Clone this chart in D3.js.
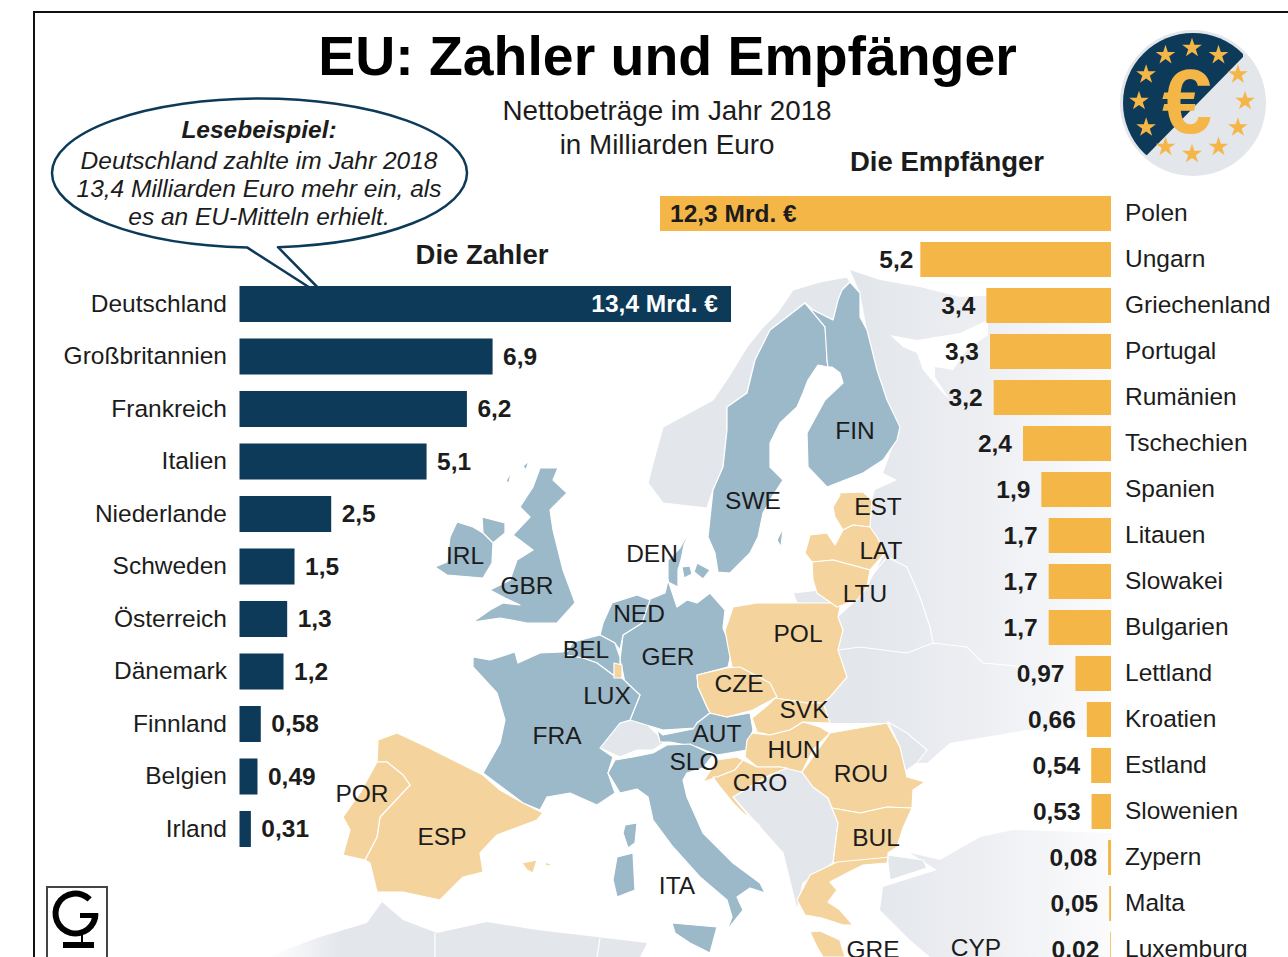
<!DOCTYPE html>
<html>
<head>
<meta charset="utf-8">
<title>EU: Zahler und Empfänger</title>
<script src="https://cdn.jsdelivr.net/npm/d3@7/dist/d3.min.js"></script>
<style>
html,body{margin:0;padding:0;background:#fff;overflow:hidden}
svg{display:block}
text{font-family:"Liberation Sans",Arial,sans-serif;fill:#1c1c1c}
</style>
</head>
<body>
<div id="chart"></div>
<script>
// die Zahler
var payerNames=["Deutschland","Großbritannien","Frankreich","Italien","Niederlande","Schweden","Österreich","Dänemark","Finnland","Belgien","Irland"];
var payerValues=[13.4,6.9,6.2,5.1,2.5,1.5,1.3,1.2,0.58,0.49,0.31];
var payerLabels=["13,4 Mrd. €","6,9","6,2","5,1","2,5","1,5","1,3","1,2","0,58","0,49","0,31"];

// die Empfänger
var receiverNames=["Polen","Ungarn","Griechenland","Portugal","Rumänien","Tschechien","Spanien","Litauen","Slowakei","Bulgarien","Lettland","Kroatien","Estland","Slowenien","Zypern","Malta","Luxemburg"];
var receiverValues=[12.3,5.2,3.4,3.3,3.2,2.4,1.9,1.7,1.7,1.7,0.97,0.66,0.54,0.53,0.08,0.05,0.02];
var receiverLabels=["12,3 Mrd. €","5,2","3,4","3,3","3,2","2,4","1,9","1,7","1,7","1,7","0,97","0,66","0,54","0,53","0,08","0,05","0,02"];

var bubbleText=["Deutschland zahlte im Jahr 2018","13,4 Milliarden Euro mehr ein, als","es an EU-Mitteln erhielt."];

var colors={navy:"#0d3a58",orange:"#f5b648",mapBlue:"#9cb9ca",mapSand:"#f4d49c",mapGrey:"#e3e6eb"};

// basemap outlines, traced by hand in page pixels (background only, no values)
var mapPayers=[
 [[805,303],[814,312],[825,327],[827,345],[827,360],[828,367],[818,365],[808,380],[803,393],[797,407],[780,423],[770,443],[770,467],[783,480],[772,497],[763,513],[758,537],[750,553],[730,573],[718,572],[715,553],[708,537],[713,490],[723,467],[727,430],[727,407],[747,393],[755,360],[770,330],[787,317]],
 [[805,303],[813,310],[833,320],[838,300],[842,290],[850,282],[860,293],[860,317],[867,330],[877,370],[887,400],[900,427],[897,440],[883,460],[863,473],[827,487],[808,467],[807,433],[825,400],[843,383],[840,373],[832,367],[828,367],[827,360],[825,327]],
 [[668,560],[680,548],[692,527],[684,545],[681,560],[678,570],[678,587],[668,582]],
 [[682,567],[690,566],[692,574],[684,578]],
 [[697,563],[710,570],[703,579],[694,572]],
 [[777,540],[783,528],[781,547]],
 [[668,580],[677,607],[687,600],[697,603],[710,593],[725,610],[723,628],[732,650],[728,667],[697,675],[698,687],[707,707],[710,713],[697,723],[695,728],[663,730],[640,723],[630,720],[640,695],[625,683],[623,673],[620,660],[623,635],[642,623],[648,600],[665,593]],
 [[612,603],[637,595],[650,600],[642,623],[623,635],[620,650],[615,643],[600,635],[603,623]],
 [[600,635],[615,643],[620,657],[620,665],[613,675],[597,663],[583,658],[565,655],[573,642]],
 [[473,657],[490,660],[515,652],[518,663],[540,653],[563,652],[573,642],[565,655],[583,658],[597,663],[613,675],[622,678],[640,695],[630,720],[620,723],[600,748],[613,757],[608,773],[615,793],[597,805],[570,793],[547,797],[540,810],[523,803],[483,773],[500,743],[505,720],[497,693],[473,667]],
 [[697,723],[710,713],[727,717],[750,713],[753,730],[747,750],[717,755],[697,747],[670,742],[660,742],[657,730],[663,735],[693,729]],
 [[608,773],[615,760],[633,757],[653,753],[667,745],[690,744],[713,755],[703,768],[687,773],[683,780],[687,797],[703,833],[733,863],[760,883],[765,893],[750,888],[737,897],[743,910],[727,930],[732,917],[727,900],[700,877],[673,847],[653,820],[648,797],[637,789],[620,793]],
 [[672,923],[717,927],[710,953],[690,943],[675,933]],
 [[617,857],[633,853],[635,890],[617,897],[613,880]],
 [[625,825],[637,823],[635,843],[628,848],[623,833]],
 [[540,468],[558,468],[553,480],[567,493],[550,510],[553,530],[563,570],[573,597],[575,603],[557,623],[527,623],[500,618],[473,622],[490,610],[503,603],[520,605],[505,598],[490,590],[510,580],[517,560],[533,550],[513,535],[530,517],[520,507],[533,487]],
 [[482,517],[505,523],[505,533],[493,543],[483,533]],
 [[457,522],[473,527],[483,533],[493,543],[492,563],[483,578],[447,575],[435,567],[447,562],[450,537]],
 [[506,481],[511,472],[509,483]],
 [[523,466],[529,461],[526,470]]
];
var mapReceivers=[
 [[378,740],[397,733],[427,747],[483,775],[500,790],[523,803],[543,813],[537,820],[497,835],[480,853],[483,872],[463,877],[440,900],[403,892],[377,892],[370,863],[365,860],[377,837],[380,817],[410,785],[403,775],[387,762],[377,762]],
 [[377,762],[387,762],[403,775],[410,785],[380,817],[377,837],[365,860],[343,855],[350,830],[343,817],[360,793]],
 [[522,863],[537,860],[533,873],[527,870]],
 [[545,862],[553,865],[546,866]],
 [[614,663],[622,665],[622,678],[614,678]],
 [[728,622],[733,607],[757,603],[787,603],[832,603],[840,607],[838,617],[843,630],[838,650],[847,677],[830,697],[823,703],[807,703],[775,698],[768,687],[740,673],[732,667],[728,647],[725,630]],
 [[697,675],[727,668],[740,667],[770,683],[777,697],[753,710],[727,717],[710,713],[707,707],[698,687]],
 [[775,698],[807,703],[823,703],[830,723],[803,722],[790,730],[770,735],[757,732],[752,718],[768,705]],
 [[752,733],[770,735],[790,730],[803,722],[820,727],[830,733],[813,750],[802,772],[780,767],[757,767],[745,757],[747,740]],
 [[703,782],[717,760],[737,757],[743,760],[735,770],[717,777]],
 [[743,760],[757,767],[780,767],[787,768],[770,775],[733,797],[748,815],[760,826],[743,813],[733,803],[720,787],[713,777],[717,777],[735,770]],
 [[802,772],[830,733],[887,723],[900,747],[907,777],[925,782],[913,790],[912,808],[887,807],[860,813],[832,808],[828,798],[813,787]],
 [[832,808],[860,813],[887,807],[912,808],[903,828],[897,847],[888,853],[888,860],[873,863],[833,863],[838,823]],
 [[837,862],[880,858],[888,857],[887,863],[863,865],[847,873],[830,882],[837,890],[828,902],[840,910],[853,925],[843,925],[822,918],[805,915],[797,900],[810,875]],
 [[810,932],[820,931],[840,940],[845,957],[823,957],[817,947]],
 [[840,495],[838,493],[863,492],[872,500],[870,527],[853,525],[843,530],[835,517],[833,507]],
 [[843,530],[853,525],[870,527],[877,537],[885,553],[870,570],[833,560],[812,562],[805,553],[810,535],[827,533],[835,545]],
 [[812,562],[833,560],[870,570],[867,587],[857,600],[837,607],[817,593],[813,580]]
];
var mapOthers=[
 [[847,277],[820,282],[793,290],[778,312],[763,327],[747,347],[728,378],[713,400],[663,427],[653,463],[648,483],[663,503],[707,508],[713,490],[723,467],[727,430],[727,407],[747,393],[755,360],[770,330],[787,317],[805,303],[813,310],[833,320],[842,290],[850,282]],
 [[600,748],[620,723],[640,718],[655,732],[665,742],[653,750],[637,750],[620,757]],
 [[733,797],[770,775],[787,768],[802,772],[813,787],[828,798],[832,808],[838,823],[833,863],[803,883],[797,910],[783,853]],
 [[793,593],[820,590],[833,607],[797,603]],
 [[887,855],[923,860],[927,868],[890,880]]
];
var mapEast=[
 [[850,270],[880,280],[920,287],[960,297],[1000,295],[1112,288],[1112,730],[1027,730],[950,743],[927,763],[917,763],[900,747],[887,723],[830,723],[823,703],[847,677],[838,650],[843,630],[838,617],[857,600],[867,587],[885,553],[870,527],[872,500],[875,490],[897,480],[883,473],[900,427],[887,400],[877,370],[867,330],[860,293]],
 [[910,853],[940,860],[980,837],[1013,830],[1112,833],[1112,957],[930,957],[910,940],[880,910],[883,887],[937,870]]
];
var mapWhite=[
 [[890,335],[917,340],[960,333],[988,320],[988,335],[967,350],[953,370],[935,367],[935,377],[950,400],[940,390],[923,370],[917,353],[903,347]]
];
var mapAfrica=[
 [[270,957],[285,950],[320,937],[367,923],[382,902],[403,920],[437,933],[487,922],[537,930],[597,937],[647,943],[640,957]]
];
var mapMoldova=[[888,722],[907,733],[927,750],[917,763],[903,773],[900,747]];
var mapBorders=[
 [[838,650],[860,647],[907,653],[933,643],[967,647],[983,663],[1027,667]],
 [[860,590],[887,557],[907,567],[920,597],[930,627],[933,643]],
 [[435,933],[435,957]],
 [[600,938],[597,957]]
];

var mapCodes=["SWE","FIN","EST","LAT","LTU","DEN","IRL","GBR","NED","BEL","GER","LUX","POL","CZE","SVK","AUT","HUN","FRA","SLO","CRO","ROU","POR","ESP","BUL","ITA","GRE","CYP"];
var mapCodeX=[753,855,878,881,865,652,465,527,639,586,668,607,798,739,804,717,794,557,694,760,861,362,442,876,677,873,976];
var mapCodeY=[500,430,506,550,593,553,555,585,613,649,656,695,633,683,709,733,749,735,761,782,773,793,836,837,885,949,947];

function drawChart(divname){
    var svg=d3.select("#"+divname)
        .append("svg")
        .attr("width",1288)
        .attr("height",957);

    var defs=svg.append("defs");
    var eastFade=defs.append("linearGradient")
        .attr("id","eastFade")
        .attr("gradientUnits","userSpaceOnUse")
        .attr("x1",860).attr("x2",1112).attr("y1",0).attr("y2",0);
    eastFade.append("stop").attr("offset","0%").attr("stop-color",colors.mapGrey);
    eastFade.append("stop").attr("offset","45%").attr("stop-color","#eceef2");
    eastFade.append("stop").attr("offset","100%").attr("stop-color","#fbfbfc");
    var westFade=defs.append("linearGradient")
        .attr("id","westFade")
        .attr("gradientUnits","userSpaceOnUse")
        .attr("x1",270).attr("x2",340).attr("y1",0).attr("y2",0);
    westFade.append("stop").attr("offset","0%").attr("stop-color","#ffffff");
    westFade.append("stop").attr("offset","100%").attr("stop-color",colors.mapGrey);

    // frame
    svg.append("path")
        .attr("d","M34,957V12H1288")
        .attr("fill","none")
        .attr("stroke","#111")
        .attr("stroke-width",2);

    // map
    var outline=d3.line().curve(d3.curveLinearClosed);
    var border=d3.line();
    var map=svg.append("g");
    function drawShapes(shapes,fill,stroke){
        map.append("g").selectAll("path")
            .data(shapes)
            .enter()
            .append("path")
            .attr("d",function(d){return outline(d)})
            .attr("fill",fill)
            .attr("stroke",stroke)
            .attr("stroke-width",1.2)
            .attr("stroke-linejoin","round");
    }
    drawShapes(mapAfrica,"url(#westFade)","none");
    drawShapes(mapEast,"url(#eastFade)","none");
    drawShapes(mapWhite,"#fff","none");
    map.append("g").selectAll("path")
        .data(mapBorders)
        .enter()
        .append("path")
        .attr("d",function(d){return border(d)})
        .attr("fill","none")
        .attr("stroke","#fff")
        .attr("stroke-width",1.2);
    drawShapes(mapOthers,colors.mapGrey,"#fff");
    drawShapes([mapMoldova],colors.mapGrey,"#fff");
    drawShapes(mapPayers,colors.mapBlue,"#fff");
    drawShapes(mapReceivers,colors.mapSand,"#fff");

    // speech bubble
    svg.append("path")
        .attr("d","M278,247.2A207.5,74.5 0 0 0 467,173A207.5,74.5 0 0 0 52,173A207.5,74.5 0 0 0 247,247.4L332,302Z")
        .attr("fill","#fff")
        .attr("stroke",colors.navy)
        .attr("stroke-width",2.5)
        .attr("stroke-linejoin","round");
    svg.append("text")
        .attr("x",259).attr("y",138)
        .attr("text-anchor","middle")
        .style("font-size","24.5px")
        .style("font-weight","bold")
        .style("font-style","italic")
        .text("Lesebeispiel:");
    svg.selectAll("text.bubble")
        .data(bubbleText)
        .enter()
        .append("text")
        .attr("class","bubble")
        .attr("x",259)
        .attr("y",function(d,i){return 169+28*i})
        .attr("text-anchor","middle")
        .style("font-size","24.5px")
        .style("font-style","italic")
        .text(function(d){return d});

    // title
    svg.append("text")
        .attr("x",667.5).attr("y",75)
        .attr("text-anchor","middle")
        .style("font-size","55.4px")
        .style("font-weight","bold")
        .style("fill","#000")
        .text("EU: Zahler und Empfänger");
    svg.append("text")
        .attr("x",667).attr("y",120)
        .attr("text-anchor","middle")
        .style("font-size","27.8px")
        .text("Nettobeträge im Jahr 2018");
    svg.append("text")
        .attr("x",667).attr("y",154)
        .attr("text-anchor","middle")
        .style("font-size","27.8px")
        .text("in Milliarden Euro");
    svg.append("text")
        .attr("x",482).attr("y",264)
        .attr("text-anchor","middle")
        .style("font-size","27.5px")
        .style("font-weight","bold")
        .text("Die Zahler");
    svg.append("text")
        .attr("x",947).attr("y",171)
        .attr("text-anchor","middle")
        .style("font-size","27.5px")
        .style("font-weight","bold")
        .text("Die Empfänger");

    // linke Balken
    var xPay=d3.scaleLinear().domain([0,13.4]).range([239.5,731]);
    var yPay=d3.scaleBand()
        .domain(payerNames)
        .range([277.75,277.75+52.5*payerNames.length])
        .paddingInner(0.314)
        .paddingOuter(0.157);
    var payers=svg.append("g").selectAll("g")
        .data(payerNames)
        .enter()
        .append("g");
    payers.append("rect")
        .attr("x",xPay(0))
        .attr("y",function(d){return yPay(d)})
        .attr("width",function(d,i){return xPay(payerValues[i])-xPay(0)})
        .attr("height",yPay.bandwidth())
        .attr("fill",colors.navy);
    payers.append("text")
        .attr("x",227)
        .attr("y",function(d){return yPay(d)+yPay.bandwidth()/2+7.5})
        .attr("text-anchor","end")
        .style("font-size","24.5px")
        .text(function(d){return d});
    payers.append("text")
        .attr("x",function(d,i){return i==0?xPay(payerValues[i])-13:xPay(payerValues[i])+10.5})
        .attr("y",function(d){return yPay(d)+yPay.bandwidth()/2+8})
        .attr("text-anchor",function(d,i){return i==0?"end":"start"})
        .style("font-size","24.5px")
        .style("font-weight","bold")
        .style("fill",function(d,i){return i==0?"#fff":"#1c1c1c"})
        .text(function(d,i){return payerLabels[i]});

    // rechte Balken
    var xRec=d3.scaleLinear().domain([0,12.3]).range([1111,660]);
    var yRec=d3.scaleBand()
        .domain(receiverNames)
        .range([190.5,190.5+46*receiverNames.length])
        .paddingInner(0.239)
        .paddingOuter(0.1195);
    var receivers=svg.append("g").selectAll("g")
        .data(receiverNames)
        .enter()
        .append("g");
    receivers.append("rect")
        .attr("x",function(d,i){return xRec(receiverValues[i])})
        .attr("y",function(d){return yRec(d)})
        .attr("width",function(d,i){return xRec(0)-xRec(receiverValues[i])})
        .attr("height",yRec.bandwidth())
        .attr("fill",colors.orange);
    receivers.append("text")
        .attr("x",1125)
        .attr("y",function(d){return yRec(d)+yRec.bandwidth()/2+7})
        .style("font-size","24.5px")
        .text(function(d){return d});
    receivers.append("text")
        .attr("x",function(d,i){
            if(i==0) return xRec(receiverValues[i])+10;
            return xRec(receiverValues[i])-(i==1?7:11);
        })
        .attr("y",function(d){return yRec(d)+yRec.bandwidth()/2+8})
        .attr("text-anchor",function(d,i){return i==0?"start":"end"})
        .style("font-size","24.5px")
        .style("font-weight","bold")
        .text(function(d,i){return receiverLabels[i]});

    // Länderkürzel
    svg.append("g").selectAll("text")
        .data(mapCodes)
        .enter()
        .append("text")
        .attr("x",function(d,i){return mapCodeX[i]})
        .attr("y",function(d,i){return mapCodeY[i]+8.5})
        .attr("text-anchor","middle")
        .style("font-size","24.5px")
        .text(function(d){return d});

    // Euro-Symbol
    var cx=1193,cy=103,starRadius=53;
    defs.append("clipPath").attr("id","navyHalf")
        .append("path").attr("d","M1243,57L1147,155L1100,155L1100,20L1243,20Z");
    svg.append("circle").attr("cx",cx).attr("cy",cy).attr("r",73).attr("fill",colors.mapGrey);
    svg.append("circle").attr("cx",cx).attr("cy",cy).attr("r",70)
        .attr("fill",colors.navy)
        .attr("clip-path","url(#navyHalf)");
    var star=d3.symbol().type(d3.symbolStar).size(120);
    svg.append("g").selectAll("path")
        .data(d3.range(12))
        .enter()
        .append("path")
        .attr("d",star)
        .attr("fill",colors.orange)
        .attr("transform",function(d){
            var a=d*Math.PI/6;
            return "translate("+(cx+starRadius*Math.sin(a)-1)+","+(cy-starRadius*Math.cos(a)-2)+")";
        });
    svg.append("text")
        .attr("x",1187).attr("y",133)
        .attr("text-anchor","middle")
        .style("font-size","90px")
        .style("font-weight","bold")
        .style("fill",colors.orange)
        .text("€");

    // Logo
    svg.append("rect")
        .attr("x",47).attr("y",887)
        .attr("width",60).attr("height",80)
        .attr("fill","#fff")
        .attr("stroke","#444")
        .attr("stroke-width",2);
    var logoArc=d3.arc()
        .innerRadius(17).outerRadius(23)
        .startAngle(Math.PI/2)
        .endAngle(Math.PI*2.25);
    svg.append("path")
        .attr("d",logoArc())
        .attr("transform","translate(75.5,913.5)")
        .attr("fill","#000");
    svg.append("rect").attr("x",80).attr("y",913).attr("width",18).attr("height",5).attr("fill","#000");
    svg.append("rect").attr("x",63).attr("y",942).attr("width",31).attr("height",6).attr("fill","#000");
    svg.append("rect").attr("x",81).attr("y",934).attr("width",2).attr("height",9).attr("fill","#000");
}
drawChart("chart");
</script>
</body>
</html>
